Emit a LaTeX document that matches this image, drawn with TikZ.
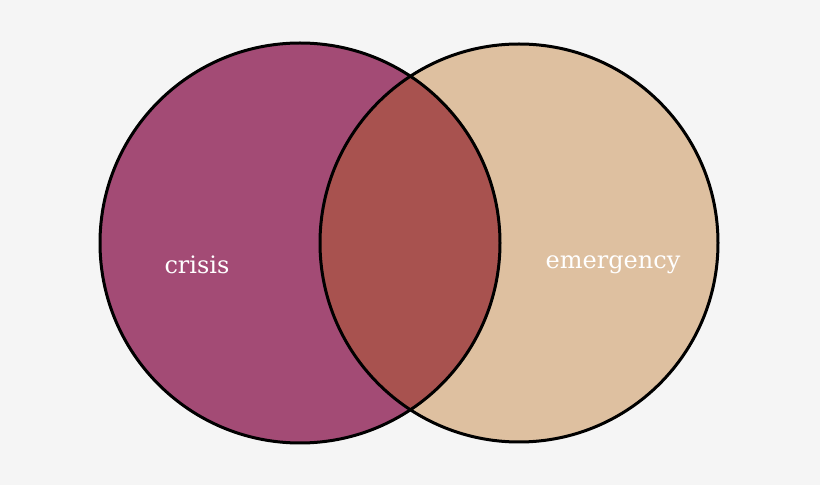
\documentclass[tikz,border=0pt]{standalone}
\usepackage{fontspec}
\setmainfont{DejaVu Serif}
\definecolor{bgc}{HTML}{F5F5F5}
\definecolor{crisisc}{HTML}{A34B75}
\definecolor{emergc}{HTML}{DEC0A0}
\definecolor{bothc}{HTML}{A8524F}
\tikzset{setlabel/.style={text=white, font=\fontsize{24}{28}\selectfont}}
\begin{document}
\begin{tikzpicture}[x=1pt,y=1pt]
  \fill[bgc] (0,0) rectangle (820,485);
  \useasboundingbox (0,0) rectangle (820,485);
  \coordinate (l) at (300,242);
  \coordinate (r) at (519,242);
  \fill[crisisc] (l) circle (200);
  \fill[emergc] (r) circle (199);
  \begin{scope}
    \clip (l) circle (200);
    \fill[bothc] (r) circle (199);
  \end{scope}
  \draw[line width=3] (l) circle (200);
  \draw[line width=3] (r) circle (199);
  \node[setlabel] (crisis) at (197,220) {crisis};
  \node[setlabel] (emergency) at (613,220) {emergency};
\end{tikzpicture}
\end{document}
